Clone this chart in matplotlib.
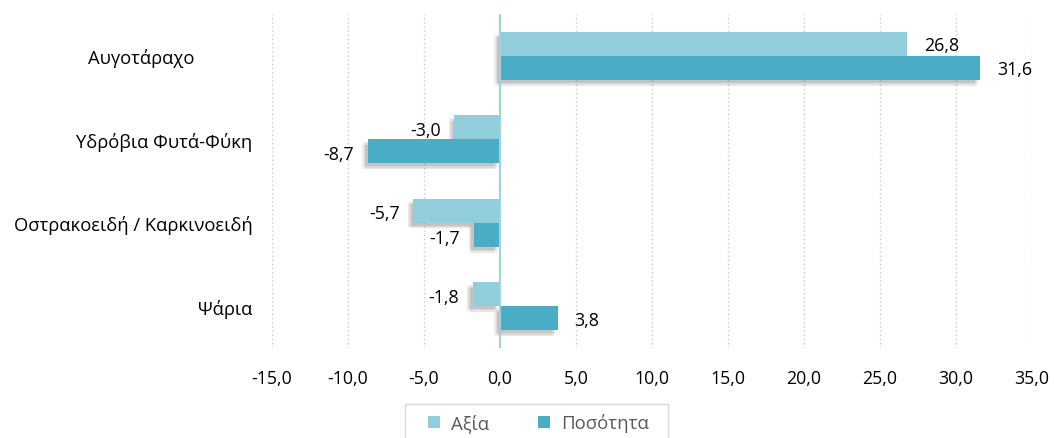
import matplotlib
matplotlib.use("Agg")
import matplotlib.pyplot as plt
import matplotlib.patheffects as pe
import matplotlib.transforms as mtransforms
from matplotlib.patches import Patch, Rectangle
import numpy as np

categories = ["Αυγοτάραχο", "Υδρόβια Φυτά-Φύκη", "Οστρακοειδή / Καρκινοειδή", "Ψάρια"]
axia = [26.8, -3.0, -5.7, -1.8]
posotita = [31.6, -8.7, -1.7, 3.8]
series_names = ["Αξία", "Ποσότητα"]
xticks = [-15, -10, -5, 0, 5, 10, 15, 20, 25, 30, 35]

c_light = "#92CDDC"
c_dark = "#4BACC6"
num_font = ["Open Sans", "DejaVu Sans"]
cat_font = ["Open Sans", "DejaVu Sans"]

fig = plt.figure(figsize=(10.54, 4.39), dpi=100)
ax = fig.add_axes([272/1054, 1-349/439, 760/1054, 334/439])

y = np.arange(len(categories))
h = 0.29
shadow = [pe.SimplePatchShadow(offset=(-4, -4), shadow_rgbFace="k", alpha=0.04),
          pe.SimplePatchShadow(offset=(-3, -3), shadow_rgbFace="k", alpha=0.06),
          pe.SimplePatchShadow(offset=(-2, -4), shadow_rgbFace="k", alpha=0.06),
          pe.SimplePatchShadow(offset=(-4, -2), shadow_rgbFace="k", alpha=0.04),
          pe.SimplePatchShadow(offset=(-2, -2), shadow_rgbFace="k", alpha=0.05),
          pe.Normal()]

b1 = ax.barh(y - h/2, axia, height=h, color=c_light, zorder=3)
b2 = ax.barh(y + h/2, posotita, height=h, color=c_dark, zorder=3)
for b in list(b1) + list(b2):
    b.set_path_effects(shadow)

for bars, vals in ((b1, axia), (b2, posotita)):
    for bar, v in zip(bars, vals):
        yc = bar.get_y() + bar.get_height()/2
        txt = f"{v:.1f}".replace(".", ",")
        if v >= 0:
            ax.annotate(txt, (v, yc), xytext=(12, -1), textcoords="offset points",
                        ha="left", va="center", fontsize=12.8, family=num_font, color="#000000")
        else:
            ax.annotate(txt, (v, yc), xytext=(-10, -2), textcoords="offset points",
                        ha="right", va="center", fontsize=12.8, family=num_font, color="#000000")

ax.set_xlim(-15, 35)
ax.set_ylim(len(categories) - 0.5, -0.5)
ax.set_xticks(xticks)
ax.set_xticklabels([f"{t:.1f}".replace(".", ",") for t in xticks], family=num_font, fontsize=12.8)
ax.set_yticks(y)
ax.set_yticklabels(categories, family=cat_font, fontsize=13.2)
ax.tick_params(axis="both", length=0)
ax.tick_params(axis="y", pad=14)
ax.tick_params(axis="x", pad=15)

for s in ax.spines.values():
    s.set_visible(False)
ax.grid(axis="x", linestyle=(0, (1, 2)), color="#C8C8C8", linewidth=1, zorder=0)
ax.axvline(0, color="#A3D0E0", linewidth=1.5, zorder=4)
gl = ax.get_xgridlines()
gl[xticks.index(0)].set_visible(False)

# shift first category label like in reference
lab = ax.get_yticklabels()[0]
lab.set_transform(lab.get_transform() + mtransforms.ScaledTranslation(-58/100, 0, fig.dpi_scale_trans))

# legend frame
fig.patches.append(Rectangle((405/1054, -0.05), 263/1054, 0.05 + (439-405)/439,
                             transform=fig.transFigure, facecolor="white",
                             edgecolor="#D9D9D9", linewidth=1, zorder=0))
handles = [Patch(facecolor=c_light, edgecolor="none"), Patch(facecolor=c_dark, edgecolor="none")]
leg = fig.legend(handles, series_names, loc="center left", bbox_to_anchor=(428/1054, 1-424/439), ncol=2,
                 frameon=False, borderpad=0, borderaxespad=0,
                 prop={"family": cat_font, "size": 13.4}, handlelength=0.65, handleheight=0.65,
                 columnspacing=2.6, handletextpad=0.6)
for t in leg.get_texts():
    t.set_color("#595959")

fig.savefig("out.png", dpi=100)
